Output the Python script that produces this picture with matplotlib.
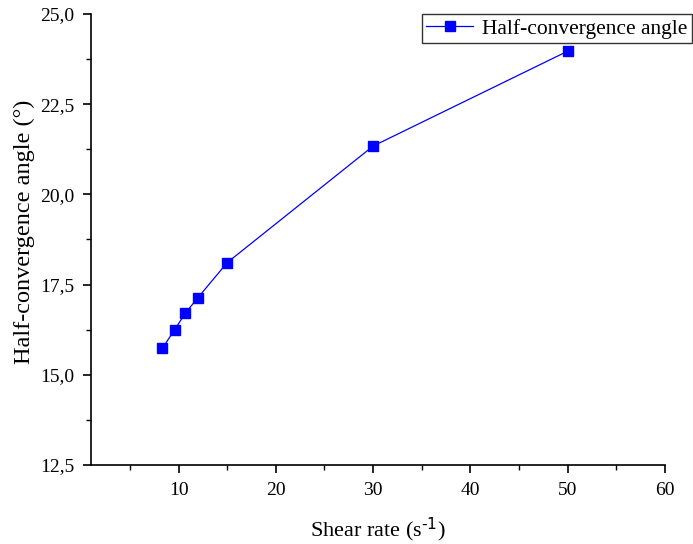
import matplotlib
matplotlib.use("Agg")
import matplotlib.pyplot as plt
from matplotlib.ticker import MultipleLocator, FuncFormatter

plt.rcParams['font.family'] = ['Liberation Serif', 'DejaVu Serif']
plt.rcParams['mathtext.default'] = 'regular'

# data
shear_rate = [8.35, 9.6, 10.7, 12.0, 15.0, 30.0, 50.0]
half_angle = [15.74, 16.25, 16.71, 17.14, 18.11, 21.34, 23.97]
series_name = "Half-convergence angle"

fig = plt.figure(figsize=(6.93, 5.44), dpi=100)
ax = fig.add_axes([0.1313, 0.1452, 0.8283, 0.8291])

ax.plot(shear_rate, half_angle, color='#0000ff', lw=0.9, marker='s',
        markersize=7, markerfacecolor='#0000ff', markeredgecolor='#0000ff',
        label=series_name)

ax.set_xlim(1, 60)
ax.set_ylim(12.5, 25)
ax.xaxis.set_major_locator(MultipleLocator(10))
ax.xaxis.set_minor_locator(MultipleLocator(5))
ax.yaxis.set_major_locator(MultipleLocator(2.5))
ax.yaxis.set_minor_locator(MultipleLocator(1.25))
ax.yaxis.set_major_formatter(FuncFormatter(lambda v, p: f"{v:.1f}".replace('.', ',')))

for side in ['top', 'right']:
    ax.spines[side].set_visible(False)
for side in ['left', 'bottom']:
    ax.spines[side].set_linewidth(1.2)
ax.tick_params(which='major', direction='out', length=6, width=1.2, labelsize=14, pad=6)
ax.tick_params(which='minor', direction='out', length=3.5, width=1.0)

ax.set_xlabel(r'Shear rate (s$^{\text{-1}}$)', fontsize=16, labelpad=12)
ax.set_ylabel('Half-convergence angle (°)', fontsize=17.5)
ax.yaxis.set_label_coords(-0.097, 0.518)

leg = ax.legend(loc='upper right', bbox_to_anchor=(0.998, 0.974),
                bbox_transform=fig.transFigure, fontsize=15.5, frameon=True,
                fancybox=False, borderpad=0.2, handlelength=2.2,
                handletextpad=0.4, borderaxespad=0)
leg.get_frame().set_edgecolor('black')
leg.get_frame().set_linewidth(1.0)

fig.savefig('out.png', dpi=100)
